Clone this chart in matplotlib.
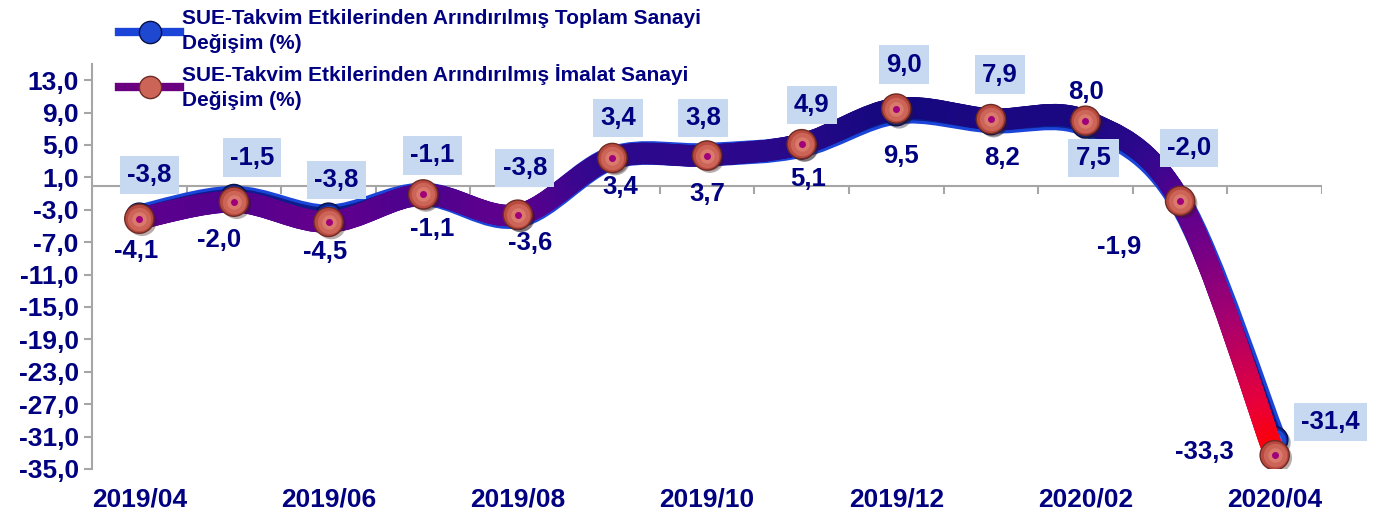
import numpy as np
import matplotlib.pyplot as plt
import matplotlib.patheffects as pe
from matplotlib.path import Path
from matplotlib.patches import PathPatch
from matplotlib.collections import LineCollection
from matplotlib.colors import LinearSegmentedColormap, Normalize
from matplotlib.lines import Line2D

plt.rcParams['font.family'] = ['Liberation Sans', 'DejaVu Sans']
plt.rcParams['font.weight'] = 'bold'

# -------------------------------------------------------
#   Daten
# -------------------------------------------------------
months = ["2019/04", "2019/05", "2019/06", "2019/07", "2019/08", "2019/09", "2019/10",
          "2019/11", "2019/12", "2020/01", "2020/02", "2020/03", "2020/04"]
toplam = [-3.8, -1.5, -3.8, -1.1, -3.8, 3.4, 3.8, 4.9, 9.0, 7.9, 7.5, -2.0, -31.4]
imalat = [-4.1, -2.0, -4.5, -1.1, -3.6, 3.4, 3.7, 5.1, 9.5, 8.2, 8.0, -1.9, -33.3]
yticks = [-35, -31, -27, -23, -19, -15, -11, -7, -3, 1, 5, 9, 13]

label_toplam = "SUE-Takvim Etkilerinden Arındırılmış Toplam Sanayi\nDeğişim (%)"
label_imalat = "SUE-Takvim Etkilerinden Arındırılmış İmalat Sanayi\nDeğişim (%)"

# Label-Versatz in Pixeln (dx, dy)
off_toplam = [(10, 41), (18, 40), (8, 36), (9, 39), (7, 48), (6, 40), (-4, 37),
              (10, 41), (8, 48), (9, 47), (8, -33), (9, 54), (56, 18)]
off_imalat = [(-3, -32), (-15, -38), (-3, -30), (9, -35), (12, -28), (8, -29), (0, -38),
              (7, -35), (5, -47), (11, -39), (1, 29), (-61, -46), (-70, 3)]

NAVY = "#000080"
GRID = "#A6A6A6"


def fmt(v):
    return f"{v:.1f}".replace(".", ",")


def smooth_path(xs, ys):
    pts = np.column_stack([xs, ys]).astype(float)
    n = len(pts)
    verts = [pts[0]]
    codes = [Path.MOVETO]
    for i in range(n - 1):
        p0 = pts[max(i - 1, 0)]
        p1 = pts[i]
        p2 = pts[i + 1]
        p3 = pts[min(i + 2, n - 1)]
        verts += [p1 + (p2 - p0) / 6, p2 - (p3 - p1) / 6, p2]
        codes += [Path.CURVE4] * 3
    return Path(verts, codes)


def sphere(ax, x, y, layers, size, z):
    ax.plot(x, y, "o", ms=size, mfc=layers[0], mec=layers[1], mew=1.0, zorder=z,
            path_effects=[pe.SimplePatchShadow(offset=(2, -2), alpha=0.35), pe.Normal()])
    ax.plot(x, y, "o", ms=size * 0.8, mfc=layers[2], mec="none", zorder=z)
    ax.plot(x, y, "o", ms=size * 0.5, mfc=layers[3], mec="none", zorder=z)


fig = plt.figure(figsize=(13.73, 5.14), dpi=100)
ax = fig.add_axes([92 / 1373, 1 - 469 / 514, (1322 - 92) / 1373, (469 - 64) / 514])
x = np.arange(len(months))
ax.set_xlim(-0.5, len(months) - 0.5)
ax.set_ylim(-35, 15)

# Achsen
for s in ["top", "right", "bottom"]:
    ax.spines[s].set_visible(False)
ax.spines["left"].set_color(GRID)
ax.spines["left"].set_linewidth(1.5)
ax.set_yticks(yticks)
ax.set_yticklabels([fmt(v) for v in yticks], fontweight="bold")
ax.tick_params(axis="y", colors=GRID, length=6, width=1.5, labelcolor=NAVY, labelsize=19)
ax.set_xticks(x[::2])
ax.set_xticklabels(months[::2], fontweight="bold")
ax.tick_params(axis="x", length=0, labelcolor=NAVY, labelsize=19, pad=13)
ax.axhline(0, color=GRID, lw=1.5, zorder=1)
ax.vlines(np.arange(len(months) + 1) - 0.5, -1.0, 0, color=GRID, lw=1.5, zorder=1)

# Toplam: blaue Linie
p_top = smooth_path(x, toplam)
ax.add_patch(PathPatch(p_top, fill=False, edgecolor="#1B45D8", lw=17,
                       capstyle="round", joinstyle="round", zorder=3))
ax.add_patch(PathPatch(p_top, fill=False, edgecolor="#0C1C8C", lw=12.5,
                       capstyle="round", joinstyle="round", zorder=3))
sphere(ax, x, toplam, ["#0A2A9A", "#06104A", "#1E48D0", "#3A6AE8"], 19, 4)

# Imalat: dicke Linie mit Farbverlauf
p_ima = smooth_path(x, imalat)
disp = ax.transData.transform_path(p_ima)
poly = disp.to_polygons(closed_only=False)[0]
fine = [poly[0]]
for a, b in zip(poly[:-1], poly[1:]):
    n = max(int(np.hypot(*(b - a)) / 2), 1)
    for t in np.linspace(0, 1, n + 1)[1:]:
        fine.append(a + (b - a) * t)
fine = ax.transData.inverted().transform(np.array(fine))
segs = np.stack([fine[:-1], fine[1:]], axis=1)
cmap = LinearSegmentedColormap.from_list("sue", [
    (0.0, "#FF0000"), (0.136, "#E8003A"), (0.364, "#A8006E"), (0.591, "#700088"),
    (0.705, "#5A008E"), (0.841, "#30088E"), (1.0, "#14087E")])
norm = Normalize(-34, 10)
lc = LineCollection(segs, colors=cmap(norm(segs[:, :, 1].mean(axis=1))), lw=15.5,
                    capstyle="round", joinstyle="round", zorder=5)
ax.add_collection(lc)
sphere(ax, x, imalat, ["#B84A40", "#6E2A24", "#CC6458", "#D97A6C"], 21, 6)
ax.plot(x, imalat, "o", ms=5, mfc="#A0007A", mec="none", zorder=6)

# Beschriftungen
for i in x:
    ax.annotate(fmt(toplam[i]), (i, toplam[i]), xytext=off_toplam[i], textcoords="offset pixels",
                ha="center", va="center", fontsize=18.5, fontweight="bold", color=NAVY, zorder=8,
                bbox=dict(boxstyle="square,pad=0.28", fc="#C6D9F1", ec="none"))
    ax.annotate(fmt(imalat[i]), (i, imalat[i]), xytext=off_imalat[i], textcoords="offset pixels",
                ha="center", va="center", fontsize=18.5, fontweight="bold", color=NAVY, zorder=8)

# Legende
h1 = Line2D([], [], color="#1B45D8", lw=6, marker="o", ms=16, mfc="#1E48D0", mec="#06104A")
h2 = Line2D([], [], color="#6A0080", lw=6, marker="o", ms=16, mfc="#CC6458", mec="#6E2A24")
leg = fig.legend([h1, h2], [label_toplam, label_imalat], loc="upper left",
                 bbox_to_anchor=(110 / 1373, 1.0), frameon=False,
                 prop=dict(size=15, weight="bold"),
                 handlelength=2.9, handletextpad=0.1, labelspacing=0.5,
                 borderaxespad=0.05)
for t in leg.get_texts():
    t.set_color(NAVY)
    t.set_linespacing(1.4)

fig.savefig("out.png", dpi=100)
